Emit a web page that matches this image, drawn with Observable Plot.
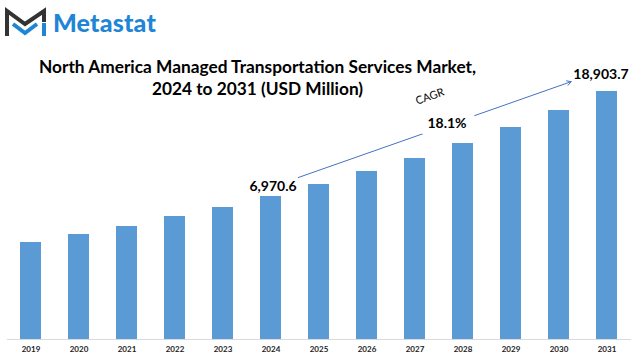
<!DOCTYPE html>
<html>
<head>
<meta charset="utf-8">
<script src="https://cdn.jsdelivr.net/npm/d3@7"></script>
<script src="https://cdn.jsdelivr.net/npm/@observablehq/plot@0.6"></script>
<style>
  html, body { margin: 0; padding: 0; background: #fff; }
  #wrap { position: relative; width: 635px; height: 358px; overflow: hidden; font-family: Lato, "Open Sans", sans-serif; }
  #logo { position: absolute; left: 4px; top: 6px; display: flex; align-items: center; }
  #logo span { font-family: Lato, sans-serif; font-weight: 900; font-size: 25px; color: #1f86d6; margin-left: 5px; letter-spacing: 0.2px; }
  #title { position: absolute; left: 0; top: 56px; width: 515px; text-align: center; font-family: Lato, sans-serif; font-weight: 700; font-size: 17.3px; line-height: 22px; color: #000; }
  #chart { position: absolute; left: 0; top: 0; }
</style>
</head>
<body>
<div id="wrap">
  <div id="chart"></div>
  <div id="logo">
    <svg width="44" height="32" viewBox="0 0 44 32">
      <polyline points="3,30 3,5 21,18 40,5 40,16" fill="none" stroke="#333" stroke-width="4" stroke-linejoin="miter"/>
      <polyline points="9,18 21,27 33,18" fill="none" stroke="#1f86d6" stroke-width="4"/>
      <line x1="40" y1="17" x2="40" y2="30" stroke="#1f86d6" stroke-width="4"/>
    </svg>
    <span>Metastat</span>
  </div>
  <div id="title">North America Managed Transportation Services Market,<br>2024 to 2031 (USD Million)</div>
</div>
<script>
const years = ["2019","2020","2021","2022","2023","2024","2025","2026","2027","2028","2029","2030","2031"];
const values = [7394, 8003, 8613, 9375, 10061, 10900, 11814, 12805, 13796, 14939, 16159, 17455, 18903.7];

// annotations
const labelYears = ["2024", "2031"];
const labelValues = [10900, 18903.7];
const labelTexts = ["6,970.6", "18,903.7"];
const cagrText = "18.1%";
const cagrWord = "CAGR";

const data = years.map((year, i) => ({year, value: values[i]}));
const labels = labelYears.map((year, i) => ({year, value: labelValues[i], text: labelTexts[i]}));

const chart = Plot.plot({
  width: 635,
  height: 358,
  marginTop: 0,
  marginBottom: 19,
  marginLeft: 7,
  marginRight: 4,
  style: { fontFamily: "Lato, 'Open Sans', sans-serif", background: "transparent", overflow: "hidden" },
  x: { type: "band", domain: years, range: [-7, 644], padding: 0.5625, axis: null },
  y: { domain: [0, 25840], axis: null },
  marks: [
    Plot.barY(data, { x: "year", y: "value", fill: "#5b9bd5" }),
    Plot.ruleY([0], { stroke: "#d9d9d9", strokeWidth: 1.2 }),
    Plot.axisX({ tickSize: 0, tickPadding: 7, fontSize: 8, fontWeight: "bold", fill: "#222" }),
    Plot.arrow([{x1: "2024", y1: 11616, x2: "2031", y2: 20611}], {
      x1: "x1", y1: "y1", x2: "x2", y2: "y2",
      insetStart: 29, insetEnd: 38, stroke: "#4472c4", strokeWidth: 1, headLength: 7
    }),
    Plot.text([{year: "2027", value: 16464}], {
      x: "year", y: "value", text: () => cagrText, dx: 32,
      fontSize: 14, fontWeight: "bold", fill: "#000",
      stroke: "white", strokeWidth: 18, strokeLinejoin: "round"
    }),
    Plot.text([{year: "2027", value: 18522}], {
      x: "year", y: "value", text: () => cagrWord, dx: 15, rotate: -20,
      fontSize: 11, fill: "#000"
    }),
    Plot.text(labels, {
      x: "year", y: "value", text: "text", dx: 2, dy: -10,
      fontSize: 14, fontWeight: "bold", fill: "#000", filter: (d) => d.year === "2024"
    }),
    Plot.text(labels, {
      x: "year", y: "value", text: "text", dx: -6, dy: -17,
      fontSize: 14, fontWeight: "bold", fill: "#000", filter: (d) => d.year === "2031"
    })
  ]
});
document.getElementById("chart").appendChild(chart);
</script>
</body>
</html>
